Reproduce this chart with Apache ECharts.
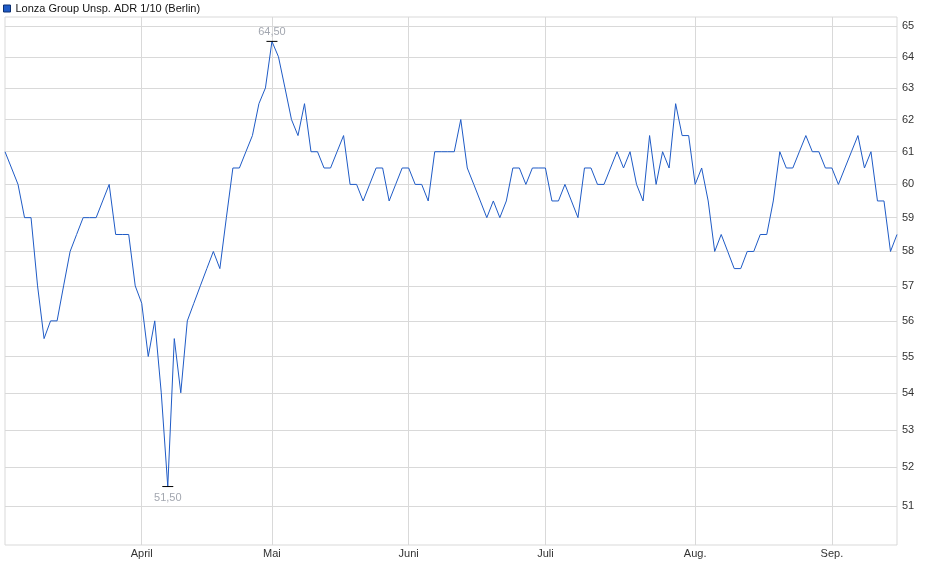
<!DOCTYPE html>
<html>
<head>
<meta charset="utf-8">
<script src="https://cdn.jsdelivr.net/npm/echarts@6.0.0/dist/echarts.min.js"></script>
<style>
    html, body { margin: 0; padding: 0; background: #fff; }
    #main { width: 940px; height: 579px; }
</style>
</head>
<body>
<div id="main"></div>
<script type="text/javascript">
// Kurse in EUR, ein Wert je Handelstag, nach Monaten
var maerz = [61, 60.5, 60, 59, 59, 57, 55.5, 56, 56, 57, 58, 58.5, 59, 59, 59, 59.5, 60, 58.5, 58.5, 58.5, 57];
var april = [56.5, 55, 56, 54, 51.5, 55.5, 54, 56, 56.5, 57, 57.5, 58, 57.5, 59, 60.5, 60.5, 61, 61.5, 62.5, 63];
var mai = [64.5, 64, 63, 62, 61.5, 62.5, 61, 61, 60.5, 60.5, 61, 61.5, 60, 60, 59.5, 60, 60.5, 60.5, 59.5, 60, 60.5];
var juni = [60.5, 60, 60, 59.5, 61, 61, 61, 61, 62, 60.5, 60, 59.5, 59, 59.5, 59, 59.5, 60.5, 60.5, 60, 60.5, 60.5];
var juli = [60.5, 59.5, 59.5, 60, 59.5, 59, 60.5, 60.5, 60, 60, 60.5, 61, 60.5, 61, 60, 59.5, 61.5, 60, 61, 60.5, 62.5, 61.5, 61.5];
var august = [60, 60.5, 59.5, 58, 58.5, 58, 57.5, 57.5, 58, 58, 58.5, 58.5, 59.5, 61, 60.5, 60.5, 61, 61.5, 61, 61, 60.5];
var september = [60.5, 60, 60.5, 61, 61.5, 60.5, 61, 59.5, 59.5, 58, 58.5];

var monate = ['März', 'April', 'Mai', 'Juni', 'Juli', 'Aug.', 'Sep.'];
var yTicks = [51, 52, 53, 54, 55, 56, 57, 58, 59, 60, 61, 62, 63, 64, 65];
var titel = 'Lonza Group Unsp. ADR 1/10 (Berlin)';

var blau = '#1f5bc6';
var grau = '#d9d9d9';
var schrift = '"Liberation Sans", Arial, sans-serif';

// Kategorien und Werte aus den Monatslisten zusammensetzen
var segmente = [maerz, april, mai, juni, juli, august, september];
var kategorien = [];
var kurse = [];
var monatsAnfang = {};
segmente.forEach(function (seg, m) {
    if (m > 0) monatsAnfang[kategorien.length] = true;
    seg.forEach(function (v, d) {
        kategorien.push(monate[m] + '#' + (d + 1));
        kurse.push(v);
    });
});
function istMonatsAnfang(i) { return !!monatsAnfang[i]; }

var myChart = echarts.init(document.getElementById('main'));
var option = {
    animation: false,
    backgroundColor: '#fff',
    textStyle: { fontFamily: schrift },
    legend: {
        left: 3,
        top: 3,
        padding: 0,
        itemWidth: 7,
        itemHeight: 7,
        icon: 'rect',
        itemStyle: { borderColor: '#0c2f70', borderWidth: 1 },
        textStyle: { fontSize: 11, color: '#111', fontFamily: schrift },
        data: [titel]
    },
    grid: {
        left: 5,
        right: 43,
        top: 17,
        bottom: 34,
        show: true,
        borderColor: grau,
        borderWidth: 1
    },
    xAxis: {
        type: 'category',
        boundaryGap: false,
        data: kategorien,
        axisLine: { show: false },
        axisTick: { show: false },
        axisLabel: {
            interval: istMonatsAnfang,
            formatter: function (v) { return v.split('#')[0]; },
            color: '#333',
            fontSize: 11,
            margin: 3,
            fontFamily: schrift
        },
        splitLine: {
            show: true,
            interval: istMonatsAnfang,
            lineStyle: { color: grau, width: 1 }
        }
    },
    yAxis: {
        type: 'log',
        logBase: 10,
        position: 'right',
        min: 50,
        max: 65.3,
        axisLine: { show: false },
        axisTick: { show: false, customValues: yTicks },
        axisLabel: {
            customValues: yTicks,
            color: '#333',
            fontSize: 11,
            margin: 5,
            fontFamily: schrift,
            formatter: function (v) { return Math.round(v); }
        },
        splitLine: { show: true, lineStyle: { color: grau, width: 1 } }
    },
    series: [{
        name: titel,
        type: 'line',
        data: kurse,
        symbol: 'none',
        lineStyle: { color: blau, width: 1 },
        itemStyle: { color: blau },
        markPoint: {
            symbol: 'rect',
            symbolSize: [11, 1],
            itemStyle: { color: '#000' },
            label: {
                color: '#a3a7b0',
                fontSize: 11,
                fontFamily: schrift,
                formatter: function (p) { return p.value.toFixed(2).replace('.', ','); }
            },
            data: [
                { type: 'max', label: { position: 'top', distance: 3 } },
                { type: 'min', label: { position: 'bottom', distance: 5 } }
            ]
        }
    }]
};
myChart.setOption(option);
</script>
</body>
</html>
